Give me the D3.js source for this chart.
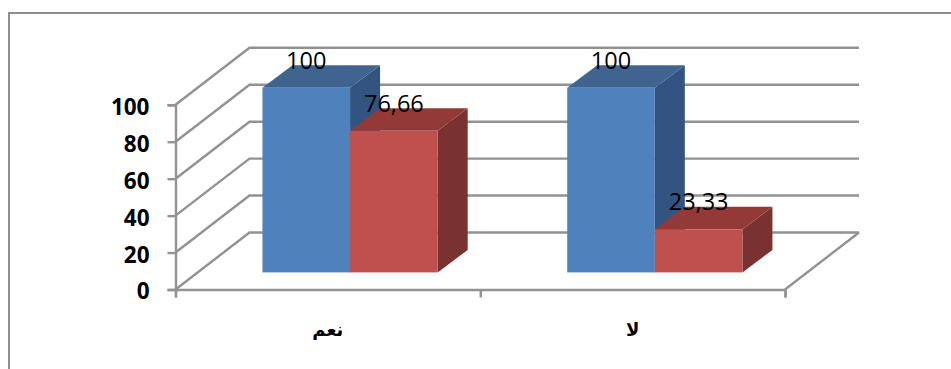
<!DOCTYPE html>
<html lang="ar">
<head>
<meta charset="utf-8">
<script src="https://cdn.jsdelivr.net/npm/d3@7/dist/d3.min.js"></script>
<style>
  html, body { margin: 0; padding: 0; background: #fff; overflow: hidden; }
  svg { display: block; }
</style>
</head>
<body>
<svg id="chart" width="951" height="369"></svg>
<script>
// Chart content
const categories = ["نعم", "لا"];
const blueValues = [100, 100];
const redValues = [76.66, 23.33];
const yTicks = [0, 20, 40, 60, 80, 100];

// Oblique projection of the 3D box: wall depth, and how far into it the bars stand
const wall = { dx: 74, dy: -57 };
const barInset = 0.3;
const barDepth = { dx: 30, dy: -22.5 };

const gridColor = "#929292";
const blueShades = { front: "#4f81bd", top: "#3f6490", side: "#335480" };
const redShades = { front: "#c0504d", top: "#933a38", side: "#7a3230" };

const svg = d3.select("#chart");
const y = d3.scaleLinear().domain([0, 100]).range([289.5, 104.8]);
const xEdges = d3.scaleLinear().domain([0, categories.length]).range([175.5, 785]);
const xBand = d3.scaleBand().domain(categories).range([175.5, 785]).paddingInner(0).paddingOuter(0);
const barWidth = xBand.bandwidth() * 0.2875;
const floorY = y(0) + wall.dy * barInset;
const insetX = wall.dx * barInset;
const labelFormat = d3.formatLocale({ decimal: ",", thousands: " ", grouping: [3], currency: ["", ""] }).format(".2~f");

// Outer frame, running off the right and bottom of the page
svg.append("rect")
  .attr("x", 9).attr("y", 13)
  .attr("width", 1200).attr("height", 600)
  .attr("fill", "#fff")
  .attr("stroke", "#8f8f8f").attr("stroke-width", 2);

// Back wall gridlines and the side wall diagonals
const grid = svg.append("g").attr("fill", "none").attr("stroke", gridColor).attr("stroke-width", 2.4);
grid.selectAll("path.wall")
  .data(yTicks)
  .join("path")
  .attr("class", "wall")
  .attr("d", d => {
    const p = d3.path();
    p.moveTo(xEdges(0), y(d));
    p.lineTo(xEdges(0) + wall.dx, y(d) + wall.dy);
    p.lineTo(xEdges(categories.length) + wall.dx, y(d) + wall.dy);
    return p.toString();
  });

// Right edge of the floor
grid.append("line")
  .attr("x1", xEdges(categories.length)).attr("y1", y(0))
  .attr("x2", xEdges(categories.length) + wall.dx).attr("y2", y(0) + wall.dy);

// Value axis
const yAxis = svg.append("g")
  .attr("transform", `translate(${xEdges(0)},0)`)
  .call(d3.axisLeft(y).tickValues(yTicks).tickSize(8).tickPadding(18));
yAxis.selectAll("text")
  .attr("font-family", "'Open Sans', sans-serif")
  .attr("font-weight", 700)
  .attr("font-size", 22.5)
  .attr("dy", "0.42em")
  .attr("fill", "#000");

// Category axis: ticks fall on the band edges
const xAxis = svg.append("g")
  .attr("transform", `translate(0,${y(0)})`)
  .call(d3.axisBottom(xEdges).tickValues(d3.range(categories.length + 1)).tickSize(8).tickFormat(""));

[yAxis, xAxis].forEach(axis => {
  axis.selectAll("path.domain").attr("stroke", gridColor).attr("stroke-width", 2.4);
  axis.selectAll("line").attr("stroke", gridColor).attr("stroke-width", 2.4);
});

svg.append("g")
  .selectAll("text")
  .data(categories)
  .join("text")
  .attr("x", d => xBand(d) + xBand.bandwidth() / 2)
  .attr("y", 336)
  .attr("text-anchor", "middle")
  .attr("direction", "rtl")
  .attr("font-family", "'DejaVu Sans', sans-serif")
  .attr("font-weight", 700)
  .attr("font-size", 18)
  .attr("fill", "#000")
  .text(d => d);

// One oblique box per value: front face, top face, right side face
function drawBars(values, offset, shades) {
  const g = svg.append("g");
  values.forEach((v, i) => {
    const x0 = xBand(categories[i]) + xBand.bandwidth() / 2 + insetX + offset * barWidth;
    const x1 = x0 + barWidth;
    const yTop = floorY - (y(0) - y(v));
    const { dx, dy } = barDepth;
    const poly = pts => pts.map(p => p.join(",")).join(" ");
    g.append("polygon").attr("fill", shades.side)
      .attr("points", poly([[x1, yTop], [x1 + dx, yTop + dy], [x1 + dx, floorY + dy], [x1, floorY]]));
    g.append("polygon").attr("fill", shades.top)
      .attr("points", poly([[x0, yTop], [x0 + dx, yTop + dy], [x1 + dx, yTop + dy], [x1, yTop]]));
    g.append("rect").attr("fill", shades.front)
      .attr("x", x0).attr("y", yTop)
      .attr("width", barWidth).attr("height", floorY - yTop);
  });
}
drawBars(blueValues, -1, blueShades);
drawBars(redValues, 0, redShades);

// Value labels sit above the front face of each bar
function drawLabels(values, offset) {
  svg.append("g")
    .selectAll("text")
    .data(values)
    .join("text")
    .attr("x", (v, i) => xBand(categories[i]) + xBand.bandwidth() / 2 + insetX + (offset + 0.5) * barWidth)
    .attr("y", v => floorY - (y(0) - y(v)) - 19)
    .attr("text-anchor", "middle")
    .attr("font-family", "'Open Sans', sans-serif")
    .attr("font-size", 23.5)
    .attr("fill", "#000")
    .text(v => labelFormat(v));
}
drawLabels(blueValues, -1);
drawLabels(redValues, 0);
</script>
</body>
</html>
